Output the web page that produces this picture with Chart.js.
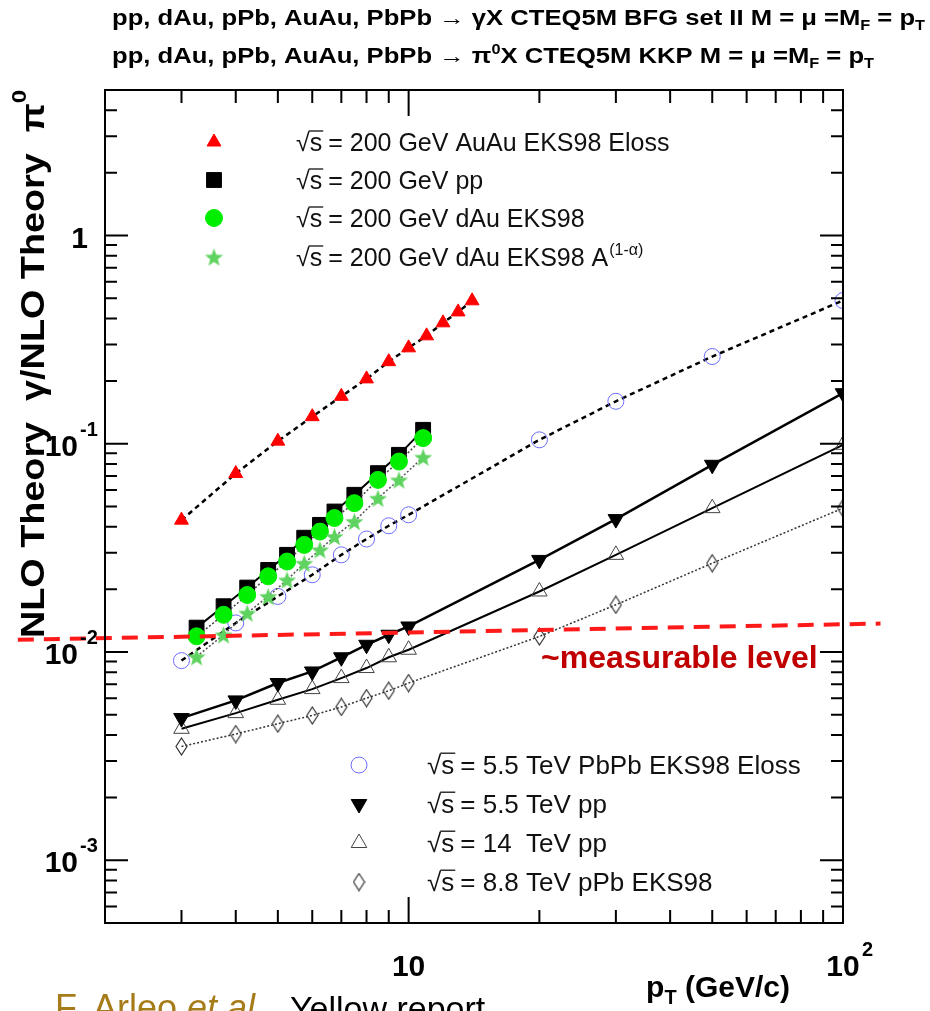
<!DOCTYPE html>
<html>
<head>
<meta charset="utf-8">
<script src="https://cdn.jsdelivr.net/npm/chart.js@4.4.1/dist/chart.umd.min.js"></script>
<style>
    html, body { margin: 0; padding: 0; background: #fff; }
    #wrap { width: 930px; height: 1011px; }
</style>
</head>
<body>
<div id="wrap"><canvas id="ratio-chart" width="930" height="1011"></canvas></div>
<script>
// pT values (GeV/c)
const ptAuAu = [3, 4, 5, 6, 7, 8, 9, 10, 11, 12, 13, 14];
const ptDAu  = [3.25, 3.75, 4.25, 4.75, 5.25, 5.75, 6.25, 6.75, 7.5, 8.5, 9.5, 10.8];
const ptLhc  = [3, 4, 5, 6, 7, 8, 9, 10, 20, 30, 50, 100];

// gamma / pi0 ratios, RHIC 200 GeV
const ratioAuAu  = [0.043, 0.072, 0.103, 0.135, 0.169, 0.205, 0.248, 0.289, 0.330, 0.381, 0.430, 0.486];
const ratioPp200 = [0.0131, 0.0166, 0.0204, 0.0248, 0.0293, 0.0354, 0.0408, 0.0473, 0.0569, 0.0723, 0.0885, 0.1167];
const ratioDAu   = [0.0119, 0.0151, 0.0188, 0.0231, 0.0272, 0.0327, 0.0379, 0.0440, 0.0519, 0.0671, 0.0822, 0.1065];
const ratioDAuA  = [0.0095, 0.0121, 0.0154, 0.0185, 0.0222, 0.0267, 0.0310, 0.0359, 0.0424, 0.0548, 0.0671, 0.0863];

// gamma / pi0 ratios, LHC
const ratioPbPb = [0.0091, 0.0138, 0.0185, 0.0235, 0.0293, 0.0349, 0.0404, 0.0456, 0.1045, 0.160, 0.2625, 0.4875];
const ratioPp55 = [0.00482, 0.00586, 0.0071, 0.00807, 0.00944, 0.01084, 0.01211, 0.01327, 0.0277, 0.0435, 0.0793, 0.175];
const ratioPp14 = [0.00428, 0.00509, 0.0059, 0.00664, 0.0075, 0.00838, 0.00944, 0.01026, 0.01954, 0.0293, 0.0491, 0.0989];
const ratioPPb  = [0.00352, 0.00404, 0.00453, 0.00496, 0.00545, 0.00601, 0.00652, 0.0071, 0.01188, 0.01687, 0.0267, 0.0491];

// hand drawn "measurable level" line (runs past both frame edges)
const measurableX = [1.26, 122];
const measurableY = [0.01145, 0.0137];

const xTickLabels = [10, 100];
const yTickLabels = [1, 0.1, 0.01, 0.001];

const legendRhic = ["= 200 GeV AuAu EKS98 Eloss", "= 200 GeV pp", "= 200 GeV dAu EKS98", "= 200 GeV dAu EKS98 A^(1-α)"];
const legendLhc  = ["= 5.5 TeV PbPb EKS98 Eloss", "= 5.5 TeV pp", "= 14  TeV pp", "= 8.8 TeV pPb EKS98"];

const SANS = '"Liberation Sans", Arial, Helvetica, sans-serif';

function makeStar(color, outer, inner)
{
    const c = document.createElement("canvas");
    const s = Math.ceil(outer * 2 + 2);
    c.width = s; c.height = s;
    const g = c.getContext("2d");
    g.fillStyle = color;
    g.beginPath();
    for (let i = 0; i < 10; i++)
    {
        const r = i % 2 ? inner : outer;
        const a = -Math.PI / 2 + i * Math.PI / 5;
        const px = s / 2 + r * Math.cos(a), py = s / 2 + 1 + r * Math.sin(a);
        if (i) g.lineTo(px, py); else g.moveTo(px, py);
    }
    g.closePath();
    g.fill();
    return c;
}

function makeDiamond(color, w, h)
{
    const c = document.createElement("canvas");
    c.width = w + 2; c.height = h + 2;
    const g = c.getContext("2d");
    g.strokeStyle = color;
    g.lineWidth = 1.2;
    g.beginPath();
    g.moveTo(c.width / 2, 1);
    g.lineTo(c.width - 1, c.height / 2);
    g.lineTo(c.width / 2, c.height - 1);
    g.lineTo(1, c.height / 2);
    g.closePath();
    g.stroke();
    return c;
}

const starMarker    = makeStar("#5fd35f", 9.5, 4);
const diamondMarker = makeDiamond("#333", 11, 17);

function series(xs, ys, style)
{
    return Object.assign({
        data: xs.map((x, i) => ({ x: x, y: ys[i] })),
        showLine: true,
        fill: false,
        tension: 0
    }, style);
}

const dsMeasurable = series(measurableX, measurableY, {
    borderColor: "#ff1a1a", borderWidth: 4, borderDash: [16, 10], pointRadius: 0, clip: false
});
const dsAuAu = series(ptAuAu, ratioAuAu, {
    borderColor: "#000", borderWidth: 2.5, borderDash: [5, 4],
    pointStyle: "triangle", pointRadius: 8, pointBackgroundColor: "#ff0000", pointBorderColor: "#ff0000", pointBorderWidth: 1
});
const dsDAuA = series(ptDAu, ratioDAuA, {
    borderColor: "#555", borderWidth: 1.5, borderDash: [2, 2],
    pointStyle: starMarker, pointRadius: 9, pointBackgroundColor: "#5fd35f", pointBorderColor: "#5fd35f", pointBorderWidth: 0
});
const dsDAu = series(ptDAu, ratioDAu, {
    borderColor: "#444", borderWidth: 1.5, borderDash: [2, 2],
    pointStyle: "circle", pointRadius: 8.5, pointBackgroundColor: "#00ee00", pointBorderColor: "#00ee00", pointBorderWidth: 1
});
const dsPp200 = series(ptDAu, ratioPp200, {
    borderColor: "#000", borderWidth: 2,
    pointStyle: "rect", pointRadius: 10.5, pointBackgroundColor: "#000", pointBorderColor: "#000", pointBorderWidth: 1
});
const dsPbPb = series(ptLhc, ratioPbPb, {
    borderColor: "#000", borderWidth: 2.5, borderDash: [5, 4],
    pointStyle: "circle", pointRadius: 8, pointBackgroundColor: "rgba(0,0,0,0)", pointBorderColor: "#6b6bff", pointBorderWidth: 1
});
const dsPp55 = series(ptLhc, ratioPp55, {
    borderColor: "#000", borderWidth: 2.5,
    pointStyle: "triangle", pointRotation: 180, pointRadius: 9, pointBackgroundColor: "#000", pointBorderColor: "#000", pointBorderWidth: 1
});
const dsPp14 = series(ptLhc, ratioPp14, {
    borderColor: "#000", borderWidth: 2,
    pointStyle: "triangle", pointRadius: 9, pointBackgroundColor: "rgba(0,0,0,0)", pointBorderColor: "#444", pointBorderWidth: 1
});
const dsPPb = series(ptLhc, ratioPPb, {
    borderColor: "#333", borderWidth: 1.5, borderDash: [2, 2],
    pointStyle: diamondMarker, pointRadius: 9, pointBackgroundColor: "rgba(0,0,0,0)", pointBorderColor: "#333", pointBorderWidth: 0
});

function logTicks(min, max)
{
    const out = [];
    for (let e = Math.floor(Math.log10(min)); e <= Math.ceil(Math.log10(max)); e++)
    {
        for (let m = 1; m <= 9; m++)
        {
            const v = m * Math.pow(10, e);
            if (v > min * 1.0001 && v < max * 0.9999) out.push({ v: v, major: m === 1 });
        }
    }
    return out;
}

function runsWidth(ctx, runs)
{
    let w = 0;
    runs.forEach(r => { ctx.font = r.font; w += ctx.measureText(r.t).width; });
    return w;
}

function drawRuns(ctx, runs, x, y)
{
    runs.forEach(r => {
        ctx.font = r.font;
        ctx.fillStyle = r.color || "#000";
        ctx.fillText(r.t, x, y + (r.dy || 0));
        x += ctx.measureText(r.t).width;
    });
    return x;
}

function drawLegendRow(ctx, ds, mx, tx, cy, label, size)
{
    ctx.save();
    ctx.fillStyle = ds.pointBackgroundColor;
    ctx.strokeStyle = ds.pointBorderColor;
    ctx.lineWidth = ds.pointBorderWidth || 1;
    Chart.helpers.drawPoint(ctx, {
        pointStyle: ds.pointStyle, radius: ds.pointRadius,
        rotation: ds.pointRotation || 0, borderWidth: ds.pointBorderWidth
    }, mx, cy);
    ctx.restore();

    const base = cy + 9;
    ctx.font = size + "px " + SANS;
    ctx.fillStyle = "#111";
    ctx.fillText("√", tx, base);
    let x = tx + ctx.measureText("√").width;
    ctx.fillText("s", x, base);
    const sw = ctx.measureText("s").width;
    ctx.beginPath();
    ctx.moveTo(x - 1, base - size * 0.8);
    ctx.lineTo(x + sw + 1, base - size * 0.8);
    ctx.lineWidth = 1.3;
    ctx.strokeStyle = "#111";
    ctx.stroke();
    x += sw + 6;
    const parts = label.split("^");
    ctx.fillText(parts[0], x, base);
    x += ctx.measureText(parts[0]).width;
    if (parts[1])
    {
        ctx.font = Math.round(size * 0.62) + "px " + SANS;
        ctx.fillText(parts[1], x + 1, base - 11);
    }
}

const decorations = {
    id: "decorations",
    afterDatasetsDraw(chart)
    {
        const { ctx, chartArea: area } = chart;
        const xs = chart.scales.x, ys = chart.scales.y;
        const B30 = "bold 30px " + SANS, B20 = "bold 20px " + SANS;
        ctx.save();

        // frame and inward ticks
        ctx.strokeStyle = "#000";
        ctx.lineWidth = 2;
        ctx.strokeRect(area.left, area.top, area.right - area.left, area.bottom - area.top);
        ctx.beginPath();
        logTicks(xs.min, xs.max).forEach(t => {
            const px = xs.getPixelForValue(t.v);
            const len = t.major ? 26 : 13;
            ctx.moveTo(px, area.bottom); ctx.lineTo(px, area.bottom - len);
            ctx.moveTo(px, area.top);    ctx.lineTo(px, area.top + len);
        });
        logTicks(ys.min, ys.max).forEach(t => {
            const py = ys.getPixelForValue(t.v);
            const len = t.major ? 23 : 12;
            ctx.moveTo(area.left, py);  ctx.lineTo(area.left + len, py);
            ctx.moveTo(area.right, py); ctx.lineTo(area.right - len, py);
        });
        ctx.stroke();

        // y tick labels
        ctx.textBaseline = "alphabetic";
        yTickLabels.forEach(v => {
            const py = ys.getPixelForValue(v) + 12;
            const e = Math.round(Math.log10(v));
            ctx.textAlign = "right";
            ctx.font = B30;
            ctx.fillStyle = "#000";
            if (e === 0)
            {
                ctx.fillText("1", 88, py);
            }
            else
            {
                ctx.fillText("10", 78, py);
                ctx.textAlign = "left";
                ctx.font = B20;
                ctx.fillText(String(e), 80, py - 20);
            }
        });

        // x tick labels
        xTickLabels.forEach(v => {
            const px = xs.getPixelForValue(v);
            const e = Math.round(Math.log10(v));
            ctx.font = B30;
            ctx.textAlign = "center";
            ctx.fillText("10", px, 976);
            if (e > 1)
            {
                ctx.textAlign = "left";
                ctx.font = B20;
                ctx.fillText(String(e), px + 19, 956);
            }
        });
        ctx.textAlign = "left";

        // x axis title
        const xTitle = [
            { t: "p", font: B30 }, { t: "T", font: B20, dy: 7 }, { t: " (GeV/c)", font: B30 }
        ];
        drawRuns(ctx, xTitle, 790 - runsWidth(ctx, xTitle), 997);

        // y axis title, stretched along its length to span the reference
        const B33 = "bold 33px " + SANS, B21 = "bold 21px " + SANS;
        const yTitle = [
            { t: "NLO Theory  γ/NLO Theory  π", font: B33 }, { t: "0", font: B21, dy: -18 }
        ];
        ctx.save();
        ctx.translate(44, 638);
        ctx.rotate(-Math.PI / 2);
        ctx.scale(548 / runsWidth(ctx, yTitle), 1);
        drawRuns(ctx, yTitle, 0, 0);
        ctx.restore();

        // title lines
        const T22 = "bold 22px " + SANS, T14 = "bold 14px " + SANS;
        const line1 = [
            { t: "pp, dAu, pPb, AuAu, PbPb → γX CTEQ5M BFG set II M = μ =M", font: T22 },
            { t: "F", font: T14, dy: 5 }, { t: " = p", font: T22 }, { t: "T", font: T14, dy: 5 }
        ];
        const line2 = [
            { t: "pp, dAu, pPb, AuAu, PbPb → π", font: T22 }, { t: "0", font: T14, dy: -9 },
            { t: "X CTEQ5M KKP M = μ =M", font: T22 },
            { t: "F", font: T14, dy: 5 }, { t: " = p", font: T22 }, { t: "T", font: T14, dy: 5 }
        ];
        const sx = 813 / runsWidth(ctx, line1);
        [[line1, 25], [line2, 63]].forEach(([runs, base]) => {
            ctx.save();
            ctx.translate(112, base);
            ctx.scale(sx, 1);
            drawRuns(ctx, runs, 0, 0);
            ctx.restore();
        });

        // annotation
        ctx.font = "bold 32px " + SANS;
        ctx.fillStyle = "#c00000";
        ctx.fillText("~measurable level", 541, 668);

        // legends
        [dsAuAu, dsPp200, dsDAu, dsDAuA].forEach((ds, i) => {
            drawLegendRow(ctx, ds, 214, 296, [142, 180, 218, 257][i], legendRhic[i], 25);
        });
        [dsPbPb, dsPp55, dsPp14, dsPPb].forEach((ds, i) => {
            drawLegendRow(ctx, ds, 359, 427, [765, 804, 843, 882][i], legendLhc[i], 26);
        });

        // reference line at the bottom (cut by the picture edge)
        drawRuns(ctx, [
            { t: "F. Arleo ", font: "36px " + SANS, color: "#a67c1b" },
            { t: "et al.", font: "italic 36px " + SANS, color: "#a67c1b" }
        ], 55, 1020);
        drawRuns(ctx, [{ t: "Yellow report", font: "34px " + SANS, color: "#000" }], 290, 1020);

        ctx.restore();
    }
};

const ctx = document.getElementById("ratio-chart").getContext("2d");

new Chart(ctx, {
    type: "scatter",
    data: {
        datasets: [dsMeasurable, dsAuAu, dsDAuA, dsDAu, dsPp200, dsPbPb, dsPp55, dsPp14, dsPPb]
    },
    options: {
        responsive: false,
        animation: false,
        devicePixelRatio: 1,
        layout: { padding: { left: 105, right: 87, top: 90, bottom: 88 } },
        plugins: {
            legend: { display: false },
            tooltip: { enabled: false }
        },
        scales: {
            x: { type: "logarithmic", min: 2, max: 100, display: false },
            y: { type: "logarithmic", min: 5e-4, max: 5, display: false }
        }
    },
    plugins: [decorations]
});
</script>
</body>
</html>
